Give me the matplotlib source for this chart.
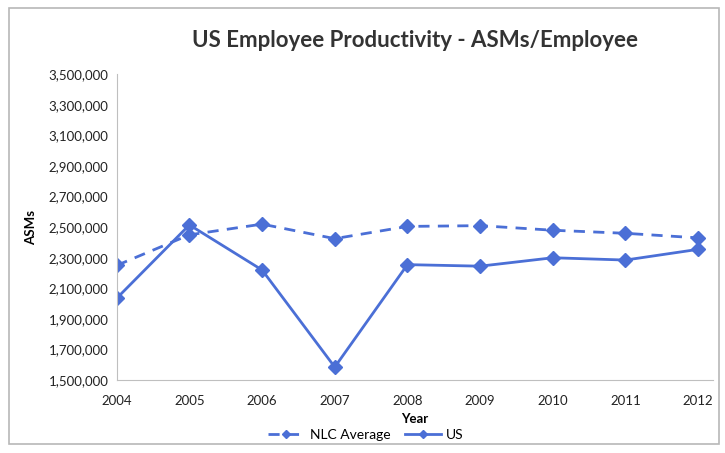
import matplotlib.pyplot as plt
from matplotlib.lines import Line2D
from matplotlib.patches import Rectangle
from matplotlib.ticker import FuncFormatter

plt.rcParams['font.family'] = ['Lato', 'DejaVu Sans']

# Data
years = [2004, 2005, 2006, 2007, 2008, 2009, 2010, 2011, 2012]
nlc_average = [2250000, 2450000, 2520000, 2425000, 2505000, 2510000, 2480000, 2460000, 2430000]
us = [2035000, 2515000, 2220000, 1585000, 2255000, 2245000, 2300000, 2285000, 2355000]
y_ticks = list(range(1500000, 3500001, 200000))

blue = '#4B6FD6'
dashes = (0, (4, 3))

fig = plt.figure(figsize=(7.25, 4.53), dpi=100)
ax = fig.add_axes([0.161, 0.161, 0.822, 0.675])

# chart border
fig.patches.append(Rectangle((0.012, 0.02), 0.98, 0.962, transform=fig.transFigure,
                             fill=False, edgecolor='#b8b8b8', linewidth=1.2))

ax.plot(years, nlc_average, color=blue, linestyle=dashes, linewidth=2,
        marker='D', markersize=7)
ax.plot(years, us, color=blue, linestyle='-', linewidth=2,
        marker='D', markersize=7)

ax.set_xlim(2004, 2012.2)
ax.set_ylim(1500000, 3500000)
ax.set_xticks(years)
ax.set_yticks(y_ticks)
ax.yaxis.set_major_formatter(FuncFormatter(lambda v, p: f'{int(v):,}'))
ax.tick_params(length=0, labelsize=9.5, colors='#222222', pad=6)
ax.tick_params(axis='x', pad=11)

for side in ['top', 'right']:
    ax.spines[side].set_visible(False)
for side in ['left', 'bottom']:
    ax.spines[side].set_color('#bfbfbf')

ax.set_title('US Employee Productivity - ASMs/Employee', fontsize=16, fontweight='bold',
             color='#333333', pad=20)
ax.set_xlabel('Year', fontsize=9.5, fontweight='bold', labelpad=4)
ax.set_ylabel('ASMs', fontsize=9.5, fontweight='bold', labelpad=8)

# legend with small markers like the original
handles = [Line2D([], [], color=blue, linestyle=dashes, linewidth=2, marker='D', markersize=4.5),
           Line2D([], [], color=blue, linestyle='-', linewidth=2, marker='D', markersize=4.5)]
fig.legend(handles, ['NLC Average', 'US'], loc='center', bbox_to_anchor=(0.505, 0.04),
           ncol=2, frameon=False, fontsize=10, handlelength=2.6, columnspacing=1.0,
           handletextpad=0.4)

fig.savefig('out.png', dpi=100)
